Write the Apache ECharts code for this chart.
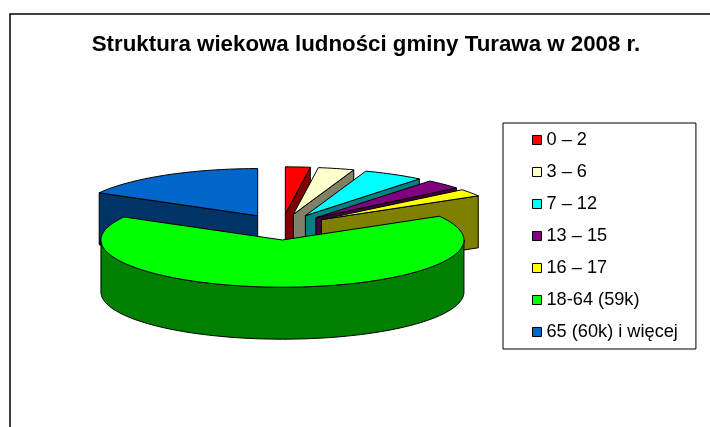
<!DOCTYPE html>
<html><head><meta charset="utf-8">
<script src="https://cdn.jsdelivr.net/npm/echarts@6/dist/echarts.min.js"></script>
<style>html,body{margin:0;padding:0;background:#fff}#c{width:710px;height:427px}</style>
</head><body><div id="c"></div>
<script>
const categories = ['0 – 2','3 – 6','7 – 12','13 – 15','16 – 17','18-64 (59k)','65 (60k) i więcej'];
const values = [2.2,3.2,5.4,3.3,2.5,66.5,16.9];
const topColors = ['#ff0000','#ffffcc','#00ffff','#800080','#ffff00','#00ff00','#0066cc'];
const sideColors = ['#800000','#808066','#008080','#400040','#808000','#008000','#003366'];
const drawOrder = [6,0,1,2,3,4,5];

const CX=282, CY=227, R=181.5, K=0.26, DEPTH=52, EXPLODE=48;
const total = values.reduce((a,b)=>a+b,0);
const rad = d=>d*Math.PI/180;
let acc=0;
const spans = values.map(v=>{const s=[acc/total*360,(acc+v)/total*360];acc+=v;return s;});

function renderSlice(params, api){
  const idx=params.seriesIndex;
  const a0=spans[drawOrder[idx]][0];
  const value=api.value(0);
  const sweep=value/total*360;
  const end=a0+sweep, mid=a0+sweep/2;
  const ax=CX+EXPLODE*Math.sin(rad(mid)), ay=CY-50*K*Math.cos(rad(mid));
  const pt=d=>[ax+R*Math.sin(rad(d)), ay-R*K*Math.cos(rad(d))];
  const down=p=>[p[0],p[1]+DEPTH];
  const arc=(f,t)=>{const n=Math.max(2,Math.ceil((t-f)/1.5));const out=[];for(let j=0;j<=n;j++)out.push(pt(f+(t-f)*j/n));return out;};
  const color=topColors[drawOrder[idx]], side=sideColors[drawOrder[idx]];
  const st=c=>({fill:c,stroke:'#000',lineWidth:1,lineJoin:'round'});
  const kids=[];
  const apex=[ax,ay];
  const wall=(d)=>{const p=pt(d);kids.push({type:'polygon',shape:{points:[apex,p,down(p),down(apex)]},style:st(side)});};
  if(Math.sin(rad(a0))<-1e-6) wall(a0);
  if(Math.sin(rad(end))>1e-6) wall(end);
  const f=Math.max(a0,90), t=Math.min(end,270);
  if(t>f){
    const top=arc(f,t);
    kids.push({type:'polygon',shape:{points:top.concat(top.slice().reverse().map(down))},style:st(side)});
  }
  kids.push({type:'polygon',shape:{points:[apex].concat(arc(a0,end))},style:st(color)});
  return {type:'group',children:kids};
}

const chart=echarts.init(document.getElementById('c'),null,{renderer:'canvas'});
chart.setOption({
  animation:false,
  backgroundColor:'#fff',
  title:{text:'Struktura wiekowa ludności gminy Turawa w 2008 r.',left:361,top:29,textAlign:'center',
    textStyle:{fontFamily:'Liberation Sans',fontSize:22.3,fontWeight:'bold',color:'#000'}},
  legend:{left:503,top:123,orient:'vertical',selectedMode:false,icon:'rect',itemWidth:9,itemHeight:9,itemGap:14,
    padding:[8,18,8,29],borderColor:'#000',borderWidth:1,
    textStyle:{fontFamily:'Liberation Sans',fontSize:18.2,color:'#000',padding:[0,0,0,0]},
    data:categories.map((n,i)=>({name:n,itemStyle:{color:topColors[i],borderColor:'#000',borderWidth:1}}))},
  graphic:[{type:'rect',silent:true,shape:{x:10,y:14,width:900,height:600},style:{fill:'none',stroke:'#000',lineWidth:1.5}}],
  series:drawOrder.map((k,o)=>({type:'custom',name:categories[k],coordinateSystem:'none',z:2+o,
    itemStyle:{color:topColors[k]},renderItem:renderSlice,data:[[values[k]]]}))
});
</script></body></html>
